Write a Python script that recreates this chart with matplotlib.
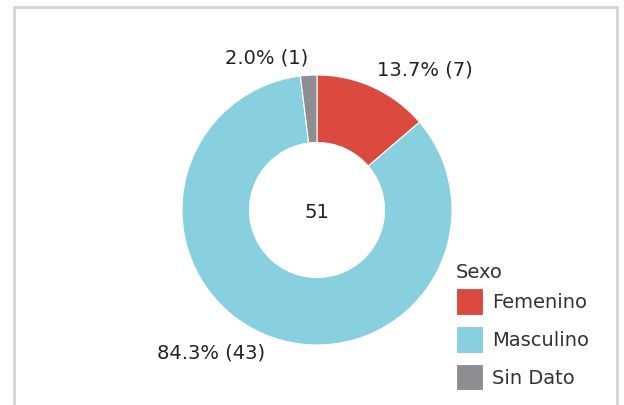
import numpy as np
import matplotlib.pyplot as plt
from matplotlib.lines import Line2D

# datos
categorias = ['Femenino', 'Masculino', 'Sin Dato']
conteos = [7, 43, 1]
colores = ['#dc493f', '#88d0e0', '#8e8e92']
titulo_leyenda = 'Sexo'

total = sum(conteos)

fig = plt.figure(figsize=(6.24, 4.05), dpi=100)

# marco gris (sin borde inferior)
for xs, ys in [([14/624, 14/624], [0, 1 - 7/405]),
               ([14/624, 617/624], [1 - 7/405, 1 - 7/405]),
               ([617/624, 617/624], [0, 1 - 7/405])]:
    fig.add_artist(Line2D(xs, ys, color='#d4d4d4', lw=2, transform=fig.transFigure))

ax = fig.add_axes([(317 - 135) / 624, (195 - 135) / 405, 270 / 624, 270 / 405])
wedges, _ = ax.pie(conteos, colors=colores, startangle=90, counterclock=False,
                   radius=1, wedgeprops=dict(width=0.5, edgecolor='white', linewidth=0.8))
ax.set_xlim(-1, 1)
ax.set_ylim(-1, 1)
ax.set_aspect('equal')
ax.axis('off')

# etiquetas fuera del anillo
for w, n in zip(wedges, conteos):
    ang = np.deg2rad((w.theta1 + w.theta2) / 2)
    x, y = 1.06 * np.cos(ang), 1.06 * np.sin(ang)
    ha = 'left' if x > 0 else 'right'
    va = 'bottom' if y > 0 else 'top'
    ax.text(x, y, f'{n / total * 100:.1f}% ({n})', ha=ha, va=va,
            fontsize=14, color='#222222')

ax.text(0, -0.02, str(total), ha='center', va='center', fontsize=14, color='#222222')

leg = fig.legend(wedges, categorias, title=titulo_leyenda, loc='upper left',
                 bbox_to_anchor=(446/624, 1 - 253/405), frameon=False, fontsize=14,
                 title_fontsize=14, handlelength=1.4, handleheight=1.7,
                 labelspacing=0.6, handletextpad=0.45, borderpad=0)
leg._legend_box.align = 'left'
leg._legend_box.sep = max(leg._legend_box.sep - 3.6, 0)
for t in leg.get_texts():
    t.set_color('#333333')
leg.get_title().set_color('#333333')

fig.savefig('out.png', dpi=100)
